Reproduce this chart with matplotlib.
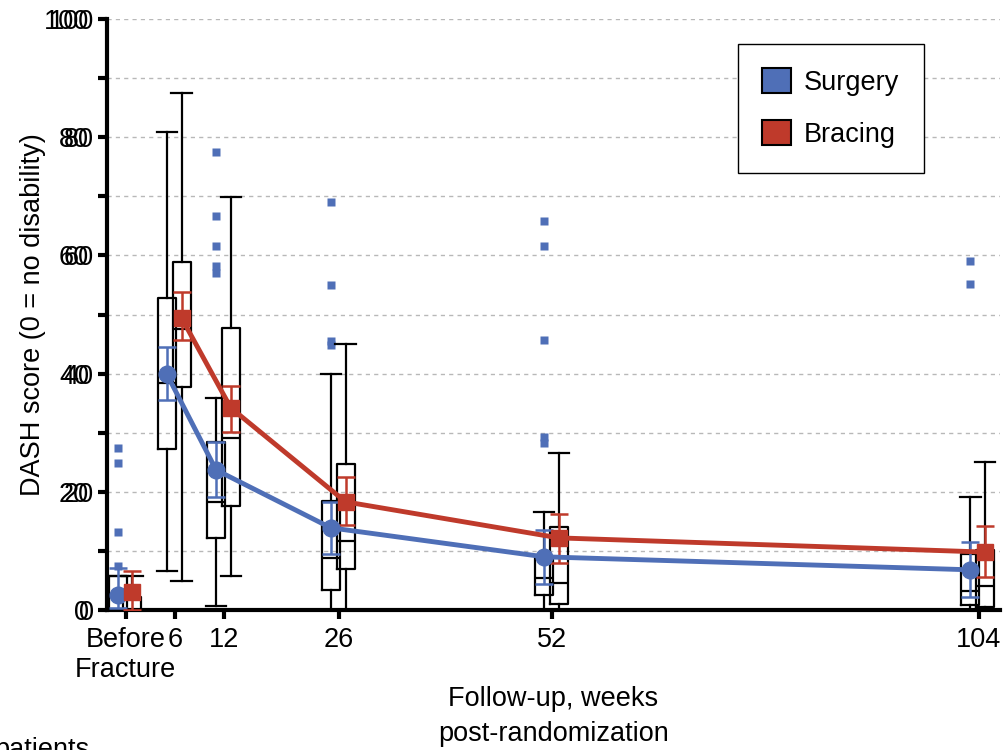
import matplotlib
matplotlib.use("Agg")
import matplotlib.pyplot as plt
import matplotlib.transforms as mtransforms
from matplotlib.patches import Patch

plt.rcParams['font.family'] = ['Liberation Sans', 'DejaVu Sans']

# follow-up times (weeks), 0 = before fracture
weeks = [0, 6, 12, 26, 52, 104]
week_labels = ['Before\nFracture', '6', '12', '26', '52', '104']

# mean DASH with 95% CI
surg_mean = [2.5, 39.9, 23.7, 13.9, 9.0, 6.8]
surg_lo = [0.3, 35.5, 19.1, 9.5, 4.4, 2.2]
surg_hi = [7.1, 44.5, 28.4, 18.2, 13.5, 11.5]
brace_mean = [3.0, 49.4, 34.2, 18.3, 12.2, 9.8]
brace_lo = [0.0, 45.7, 30.1, 14.4, 7.9, 5.6]
brace_hi = [6.6, 53.8, 37.9, 22.5, 16.2, 14.2]

# box plot summaries
surg_q1 = [0, 27.2, 12.2, 3.4, 2.5, 0.8]
surg_med = [0, 38.4, 18.3, 8.8, 5.4, 3.2]
surg_q3 = [5.8, 52.8, 28.4, 18.4, 9.0, 9.5]
surg_wlo = [0, 6.6, 0.7, 0, 0, 0]
surg_whi = [5.8, 80.9, 35.9, 39.9, 16.6, 19.1]
surg_out = [[7.4, 13.2, 24.9, 27.4], [], [57.0, 58.2, 61.6, 66.7, 77.5],
            [44.9, 45.6, 55.0, 69.0], [28.3, 29.3, 45.7, 61.6, 65.8], [55.2, 59.1]]

brace_q1 = [0, 37.7, 17.6, 6.9, 1.0, 0.5]
brace_med = [0, 47.5, 29.1, 11.7, 4.6, 4.1]
brace_q3 = [2.2, 58.9, 47.7, 24.7, 14.0, 10.2]
brace_wlo = [0, 4.9, 5.8, 0, 0, 0]
brace_whi = [5.8, 87.5, 69.9, 45.0, 26.6, 25.0]

blue = '#4F6FB7'
red = '#BF3A2B'
fs = 19.5

fig = plt.figure(figsize=(10.08, 7.5), dpi=100)
ax = fig.add_axes([107 / 1008, 140 / 750, 893 / 1008, 591 / 750])

surg_x = [w - 1.0 for w in weeks]
brace_x = [w + 0.8 for w in weeks]


def stats(q1, med, q3, wlo, whi, out=None):
    res = []
    for i in range(len(q1)):
        res.append(dict(q1=q1[i], med=med[i], q3=q3[i], whislo=wlo[i],
                        whishi=whi[i], fliers=out[i] if out else []))
    return res


box_style = dict(widths=2.2, capwidths=2.5, showfliers=True, patch_artist=False,
                 boxprops=dict(color='black', lw=1.6),
                 whiskerprops=dict(color='black', lw=1.6),
                 capprops=dict(color='black', lw=1.6),
                 medianprops=dict(color='black', lw=1.6),
                 flierprops=dict(marker='s', markersize=6, markerfacecolor=blue,
                                 markeredgecolor='none'))
ax.bxp(stats(surg_q1, surg_med, surg_q3, surg_wlo, surg_whi, surg_out),
       positions=surg_x, manage_ticks=False, **box_style)
ax.bxp(stats(brace_q1, brace_med, brace_q3, brace_wlo, brace_whi),
       positions=brace_x, manage_ticks=False, **box_style)

# confidence intervals
for xs, m, lo, hi, c in [(surg_x, surg_mean, surg_lo, surg_hi, blue),
                         (brace_x, brace_mean, brace_lo, brace_hi, red)]:
    err = [[a - b for a, b in zip(m, lo)], [b - a for a, b in zip(m, hi)]]
    ax.errorbar(xs, m, yerr=err, fmt='none', ecolor=c, elinewidth=1.8,
                capsize=6.5, capthick=1.8, zorder=3)

# mean trajectories after randomization
ax.plot(surg_x[1:], surg_mean[1:], color=blue, lw=3.5, zorder=4)
ax.plot(brace_x[1:], brace_mean[1:], color=red, lw=3.5, zorder=4)
ax.plot(surg_x, surg_mean, 'o', color=blue, ms=12, zorder=5)
ax.plot(brace_x, brace_mean, 's', color=red, ms=12, zorder=5)

ax.set_xlim(-2.3, 106.6)
ax.set_ylim(0, 100)
ax.set_xticks(weeks)
ax.set_xticklabels(week_labels)
ax.set_yticks([0, 20, 40, 60, 80, 100])
ax.set_yticks([10, 30, 50, 70, 90], minor=True)
ax.tick_params(axis='both', which='both', width=3, length=6.5, labelsize=fs)
ax.tick_params(axis='y', pad=3)
ax.tick_params(axis='x', pad=6)

# second, slightly shifted set of y labels
off = mtransforms.offset_copy(ax.get_yaxis_transform(), fig=fig,
                              x=-(6.5 + 3 + 3.5), units='points')
for v in [0, 20, 40, 60, 80, 100]:
    ax.text(0, v, str(v), transform=off, ha='right', va='center_baseline',
            fontsize=fs)

ax.yaxis.grid(True, which='both', ls=(0, (3, 3)), color='#b8b8b8', lw=1)
ax.set_axisbelow(True)
for s in ['top', 'right']:
    ax.spines[s].set_visible(False)
for s in ['left', 'bottom']:
    ax.spines[s].set_linewidth(3)

ax.set_ylabel('DASH score (0 = no disability)', fontsize=fs, labelpad=2)
ax.set_xlabel('Follow-up, weeks\npost-randomization', fontsize=fs,
              labelpad=2, linespacing=1.45)

handles = [Patch(facecolor=blue, edgecolor='black', lw=1.5, label='Surgery'),
           Patch(facecolor=red, edgecolor='black', lw=1.5, label='Bracing')]
leg = ax.legend(handles=handles, loc='upper left',
                bbox_to_anchor=(738 / 1008, 1 - 44 / 750),
                bbox_transform=fig.transFigure, borderaxespad=0,
                fontsize=fs, handlelength=1.04, handleheight=1.04,
                labelspacing=0.9, borderpad=0.9, handletextpad=0.5,
                fancybox=False, framealpha=1, edgecolor='black')
leg.get_frame().set_linewidth(1)

fig.text(-0.006, -0.009, 'patients', fontsize=fs, va='baseline', ha='left')

fig.savefig('out.png', dpi=100)
